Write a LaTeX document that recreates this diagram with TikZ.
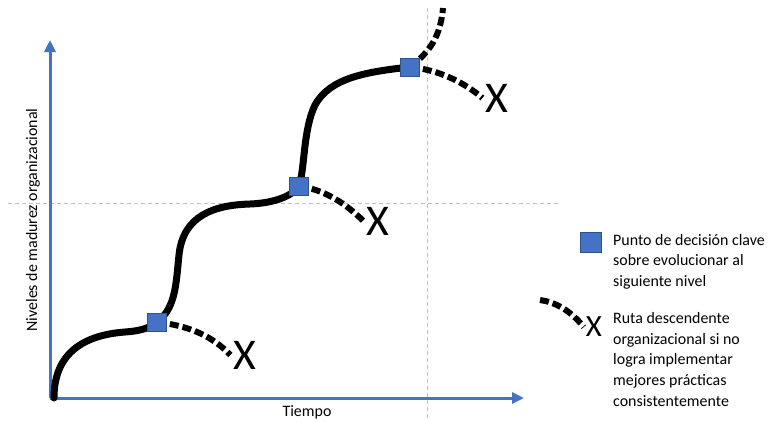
\documentclass[tikz,border=0pt]{standalone}
\usepackage{fontspec}
\setmainfont{Carlito}
\usetikzlibrary{arrows.meta}

\definecolor{ejeazul}{HTML}{4472C4}
\definecolor{bordeazul}{HTML}{2F528F}
\definecolor{guia}{HTML}{BFBFBF}

\tikzset{
  eje/.style={ejeazul,line width=3bp,-{Triangle[length=12bp,width=11bp]}},
  guialinea/.style={guia,line width=1bp,dash pattern=on 4bp off 3bp},
  ruta/.style={black,line width=7bp,line cap=round},
  caida/.style={black,line width=6bp,dash pattern=on 9bp off 4bp},
  decision/.style={draw=bordeazul,fill=ejeazul,line width=0.6bp,minimum width=19bp,minimum height=18bp,inner sep=0pt},
  fallo/.style={inner sep=0pt,font=\fontsize{44}{44}\selectfont},
  leyenda/.style={anchor=north west,align=left,inner sep=0pt,font=\fontsize{16}{20.8}\selectfont}
}

\begin{document}
\begin{tikzpicture}[x=1bp,y=-1bp]
\useasboundingbox (0,0) rectangle (774,421);

% lineas guia
\draw[guialinea] (8,203) -- (560,203);
\draw[guialinea] (427,8) -- (427,421);

% ejes
\coordinate (o) at (50,398);
\coordinate (ytop) at (50,40);
\coordinate (xend) at (524,398);
\draw[eje] (o) -- (ytop);
\draw[eje] (o) -- (xend);
\node[rotate=90,font=\fontsize{16}{16}\selectfont] (ylab) at (33,220) {Niveles de madurez organizacional};
\node[font=\fontsize{16}{16}\selectfont] (xlab) at (307,412) {Tiempo};

% puntos de decision y caidas
\coordinate (inicio) at (54,398);
\coordinate (d1) at (157,322);
\coordinate (d2) at (299,186);
\coordinate (d3) at (410,67);
\coordinate (arriba) at (443,8);
\node[fallo] (x1) at (245,355) {X};
\node[fallo] (x2) at (378,221) {X};
\node[fallo] (x3) at (497,98) {X};

% ruta de madurez
\draw[ruta] (inicio) .. controls (54,352) and (85,335) .. (125,332)
  .. controls (140,331) and (150,328) .. (d1)
  .. controls (176,308) and (176,283) .. (179,255)
  .. controls (183,215) and (215,205) .. (250,204)
  .. controls (275,203) and (292,196) .. (d2)
  .. controls (305,168) and (303,130) .. (315,105)
  .. controls (330,78) and (365,72) .. (d3);
\draw[caida] (d3) .. controls (425,55) and (440,42) .. (arriba);

\draw[caida] (d1) .. controls (190,326) and (212,336) .. ([xshift=-3bp]x1.west);
\draw[caida] (d2) .. controls (325,190) and (345,203) .. ([xshift=-3bp]x2.west);
\draw[caida] (d3) .. controls (440,70) and (465,83) .. ([xshift=-3bp]x3.west);

\node[decision] (p1) at (d1) {};
\node[decision] (p2) at (d2) {};
\node[decision] (p3) at (d3) {};

% leyenda
\node[decision,minimum width=21bp,minimum height=20bp] (lp) at (591,242) {};
\node[leyenda] (lt1) at (613,234) {Punto de decisión clave\\sobre evolucionar al\\siguiente nivel};
\node[fallo,font=\fontsize{31}{31}\selectfont] (lx) at (594,327) {X};
\coordinate (lc) at (540,300);
\draw[caida] (lc) .. controls (555,302) and (570,310) .. ([xshift=-2bp]lx.west);
\node[leyenda] (lt2) at (613,312) {Ruta descendente\\organizacional si no\\logra implementar\\mejores prácticas\\consistentemente};
\end{tikzpicture}
\end{document}
